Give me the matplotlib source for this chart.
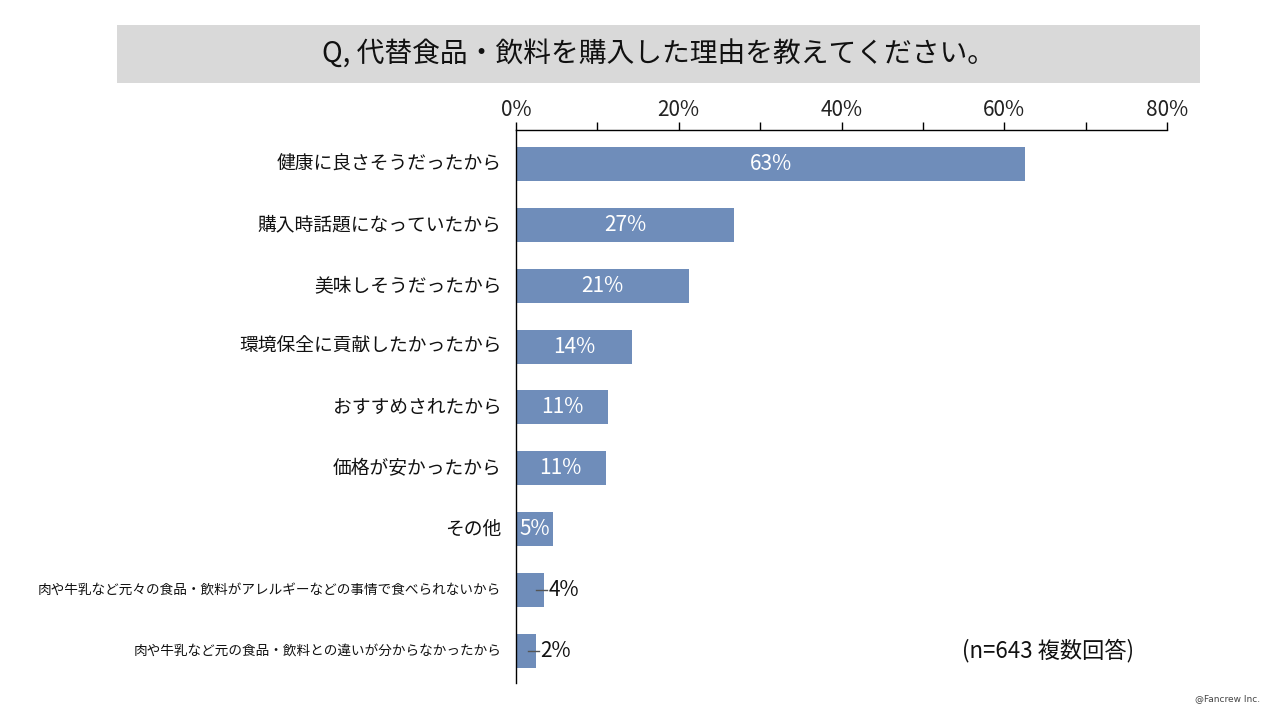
import matplotlib
matplotlib.use('Agg')
import matplotlib.pyplot as plt
from matplotlib.patches import Rectangle

plt.rcParams['font.family'] = ['Noto Sans CJK JP', 'DejaVu Sans']

# data
categories = [
    "健康に良さそうだったから",
    "購入時話題になっていたから",
    "美味しそうだったから",
    "環境保全に貢献したかったから",
    "おすすめされたから",
    "価格が安かったから",
    "その他",
    "肉や牛乳など元々の食品・飲料がアレルギーなどの事情で食べられないから",
    "肉や牛乳など元の食品・飲料との違いが分からなかったから",
]
values = [62.6, 26.8, 21.3, 14.2, 11.3, 11.0, 4.6, 3.5, 2.5]
value_labels = ["63%", "27%", "21%", "14%", "11%", "11%", "5%", "4%", "2%"]
label_sizes = [13.5, 13.5, 13.5, 13.5, 13.5, 13.5, 13.5, 9.8, 9.8]
outside = [False] * 7 + [True, True]

title = "Q, 代替食品・飲料を購入した理由を教えてください。"
note = "(n=643 複数回答)"
copyright_text = "@Fancrew Inc."

bar_color = "#6f8dba"

fig = plt.figure(figsize=(12.8, 7.2), dpi=100)
fig.patch.set_facecolor("white")

# title banner
fig.patches.append(Rectangle((117 / 1280, 1 - 83 / 720), (1200 - 117) / 1280, 58 / 720,
                             transform=fig.transFigure, facecolor="#d9d9d9",
                             edgecolor="none", zorder=0))
fig.text(658 / 1280, 1 - 55 / 720, title, ha="center", va="center",
         fontsize=20, color="#111111")

ax = fig.add_axes([516 / 1280, 1 - 683 / 720, (1167 - 516) / 1280, (683 - 130) / 720])
y = list(range(len(categories)))
ax.barh(y, values, height=0.56, color=bar_color, zorder=2)

ax.set_xlim(0, 80)
ax.set_ylim(len(categories) - 0.47, -0.56)
ax.xaxis.tick_top()
ax.set_xticks(range(0, 81, 20))
ax.set_xticklabels([f"{t}%" for t in range(0, 81, 20)], fontsize=15, color="#222222")
ax.set_xticks(range(10, 80, 20), minor=True)
ax.tick_params(axis="x", which="both", direction="out", length=6, width=1,
               color="black", pad=0.5)
ax.set_yticks(y)
ax.set_yticklabels([])
ax.tick_params(axis="y", length=0)

for i, cat in enumerate(categories):
    ax.text(-1.8, i, cat, ha="right", va="center", fontsize=label_sizes[i],
            color="#111111", transform=ax.transData, clip_on=False)

for i, (v, lab) in enumerate(zip(values, value_labels)):
    if outside[i]:
        ax.plot([v - 1.0, v + 0.35], [i, i], color="#555555", lw=1, zorder=3)
        ax.text(v + 0.5, i, lab, ha="left", va="center", fontsize=15, color="#111111")
    else:
        ax.text(v / 2, i, lab, ha="center", va="center", fontsize=15, color="white")

for side in ["right", "bottom"]:
    ax.spines[side].set_visible(False)
ax.spines["top"].set_linewidth(1)
ax.spines["left"].set_linewidth(1)
ax.set_facecolor("none")

fig.text(1048 / 1280, 1 - 651 / 720, note, ha="center", va="center",
         fontsize=16, color="#111111")
fig.text(1228 / 1280, 1 - 699 / 720, copyright_text, ha="center", va="center",
         fontsize=6.5, color="#444444", family="DejaVu Sans")

fig.savefig("out.png", dpi=100)
